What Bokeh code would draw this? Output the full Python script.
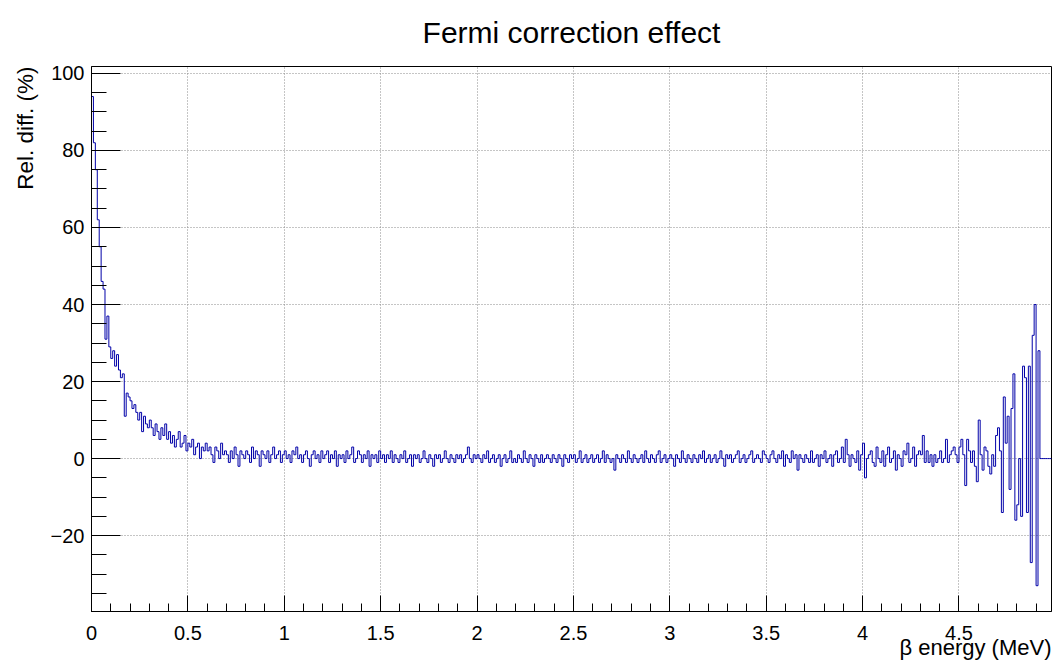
import math
from bokeh.plotting import figure
from bokeh.models import Range1d, SingleIntervalTicker, CustomJSTickFormatter, Title
from bokeh.embed import file_html
from bokeh.resources import INLINE

title_text = "Fermi correction effect"
x_title = "β energy (MeV)"
y_title = "Rel. diff. (%)"

bin_width = 0.01          # MeV per bin
x_min, x_max = 0.0, 4.98
y_min, y_max = -39.7, 101.8

# relative difference (%) per 0.01 MeV bin
rel_diff_low = [  # 0.00 - 0.69 MeV
    94, 82, 75, 62, 55, 46, 44, 31, 37, 29,
    26, 28, 24, 27, 23, 21, 22, 11, 17, 16,
    15, 13, 14, 12, 10, 12, 7, 11, 9, 8,
    10, 8, 6, 9, 7, 5, 8, 6, 9, 5,
    7, 4, 6, 3, 5, 7, 3, 4, 6, 2,
    4, 3, 5, 1, 3, 4, 0, 3, 2, 4,
    2, 3, 1, -1, 3, 2, 0, 4, 1, 2,
]
rel_diff_mid = [  # 0.70 - 4.33 MeV
    1, -1, 2, 0, 3, 1, -2, 2, 1, 0,
    2, 1, -1, 3, 0, 2, 1, -2, 2, 1,
    0, 2, -1, 1, 3, 0, 1, 2, -1, 1,
    2, 0, 1, -1, 2, 1, 3, 0, 1, -1,
    1, 2, 0, -2, 1, 2, 0, 1, -1, 2,
    0, 1, 2, -1, 1, 0, 2, -2, 1, 0,
    1, -1, 2, 0, 1, 3, -1, 0, 2, 1,
    -1, 1, 0, 2, -2, 1, 0, 1, -1, 2,
    0, 1, -1, 1, 0, 2, -1, 1, 0, -1,
    1, 0, 2, -1, 0, 1, -2, 1, 0, 1,
    -1, 0, 2, 0, -1, 1, 0, -2, 1, 0,
    1, -1, 0, 2, 0, -1, 1, 0, -1, 1,
    0, 1, -1, 0, 1, 3, 0, -1, 1, 0,
    1, 0, -1, 1, 0, 2, -1, 0, 1, -1,
    0, 1, -2, 0, 1, -1, 0, 2, -1, 0,
    -1, 1, 0, -1, 2, 0, -1, 1, 0, -2,
    1, 0, -1, 1, -1, 0, 1, 0, -1, 1,
    0, -1, 1, 0, -2, 1, 0, -1, 1, 0,
    1, -1, 0, 2, -1, 0, 1, -1, 0, 1,
    -1, 0, 1, -1, 0, 2, -1, 1, 0, -1,
    0, -3, 1, 0, -1, 1, 0, -1, 2, 0,
    -1, 1, 0, -1, 0, 1, -1, 2, 0, -1,
    1, 0, -1, 1, 2, -1, 0, 1, -1, 0,
    1, 0, -2, 1, 0, -1, 2, 0, -1, 1,
    0, -1, 1, 0, -1, 1, 0, 2, -1, 0,
    1, -1, 0, 1, -1, 0, 2, 0, -2, 1,
    0, 1, -1, 0, 1, 2, -1, 0, 1, -1,
    0, 1, 2, -1, 0, 1, 0, -1, 2, 1,
    0, -1, 1, 2, 0, -1, 1, 0, 2, -2,
    1, 0, -1, 2, 0, 1, -3, 1, 0, -1,
    1, 0, -1, 2, -1, 0, 1, -2, 1, 0,
    2, -1, 0, 1, -2, 1, 2, -1, 0, 3,
    -1, 5, 1, -2, 1, 0, -1, 2, -3, 1,
    4, -5, 0, 1, 2, -1, -2, 3, 0, -1,
    2, -2, 1, 3, -1, 0, 2, -3, 1, 0,
    -2, 2, 1, 4, -1, 0, 3, -2, 1, 2,
    1, 6, -1, 2,
]
rel_diff_tail = [  # 4.34 - 4.97 MeV
    -1, 1, -2, 1, -1, 0,
    2, -1, 0, 5, -1, 1, 2, 3, 1, -1,
    3, 5, 1, -7, 5, 2, -1, 2, -2, -6,
    10, 1, -3, 3, 2, -2, -4, 1, -2, 6,
    8, 2, -14, 16, 4, 11, -8, 13, 22, -16,
    -12, 0, -15, 24, 21, -14, 24, -27, 32, 40,
    -33, 28,
    0, 0, 0, 0, 0, 0,
]
rel_diff = rel_diff_low + rel_diff_mid + rel_diff_tail

edges = [i * bin_width for i in range(len(rel_diff) + 1)]
step_y = rel_diff + [rel_diff[-1]]

FONT = "Liberation Sans"

p = figure(
    width=1053, height=662,
    x_range=Range1d(x_min, x_max), y_range=Range1d(y_min, y_max),
    output_backend="svg", toolbar_location=None,
    min_border_left=90, min_border_right=2, min_border_top=66, min_border_bottom=51,
    background_fill_color="white", border_fill_color="white",
)

p.step(edges, step_y, mode="after", line_color="#0000a8", line_width=1.0)

# title
p.title.text = title_text
p.title.align = "center"
p.title.vertical_align = "top"
p.title.text_font = FONT
p.title.text_font_size = "30px"
p.title.text_font_style = "normal"
p.title.text_color = "black"
p.title.standoff = 31

# frame
p.outline_line_color = "black"
p.outline_line_width = 1

xt = SingleIntervalTicker(interval=0.5, num_minor_ticks=5)
yt = SingleIntervalTicker(interval=20, num_minor_ticks=4)
p.xaxis.ticker = xt
p.yaxis.ticker = yt
p.xgrid.ticker = xt
p.ygrid.ticker = yt

p.xaxis.formatter = CustomJSTickFormatter(code="return String(Math.round(tick*10)/10);")
p.yaxis.formatter = CustomJSTickFormatter(
    code="const v = Math.round(tick); return v < 0 ? '\u2212' + Math.abs(v) : String(v);")

for ax in (p.xaxis, p.yaxis):
    ax.axis_line_color = "black"
    ax.major_tick_line_color = "black"
    ax.minor_tick_line_color = "black"
    ax.major_tick_out = 0
    ax.minor_tick_out = 0
    ax.major_label_text_font = FONT
    ax.major_label_text_font_size = "20px"
    ax.major_label_text_color = "black"

p.xaxis.major_tick_in = 16
p.xaxis.minor_tick_in = 8
p.xaxis.major_label_standoff = 14
p.yaxis.major_tick_in = 29
p.yaxis.minor_tick_in = 15
p.yaxis.major_label_standoff = 7

# axis titles as side titles (ROOT style: right / top aligned)
x_ttl = Title(text=x_title, align="right", text_font=FONT, text_font_size="22px",
              text_font_style="normal", text_color="black", standoff=-19)
y_ttl = Title(text=y_title, align="right", text_font=FONT, text_font_size="22.5px",
              text_font_style="normal", text_color="black", standoff=20)
p.add_layout(x_ttl, "below")
p.add_layout(y_ttl, "left")

for g in (p.xgrid, p.ygrid):
    g.grid_line_color = "#8a8a8a"
    g.grid_line_dash = "1 2"
    g.grid_line_width = 1

open("out.html", "w").write(file_html(p, INLINE))
